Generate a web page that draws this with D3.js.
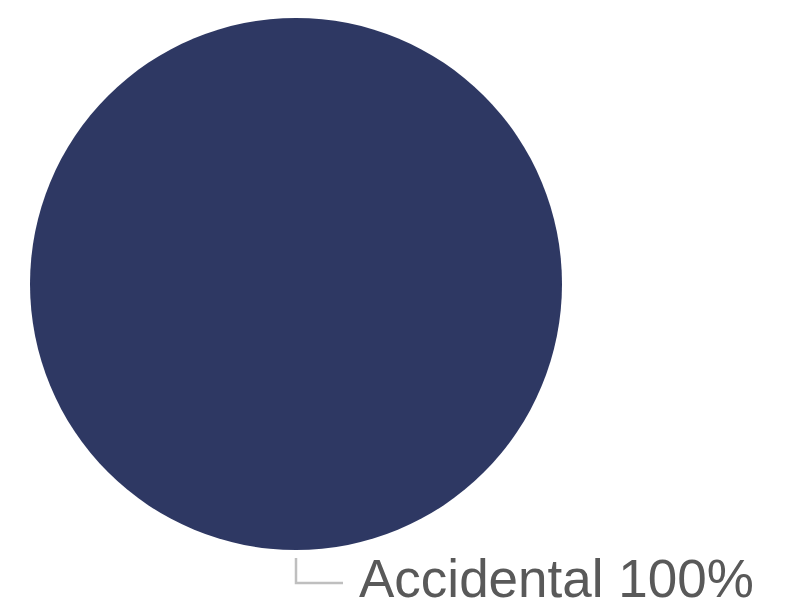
<!DOCTYPE html>
<html><head><meta charset="utf-8">
<script src="https://cdn.jsdelivr.net/npm/d3@7"></script>
<style>body{margin:0;background:#fff}svg{display:block}</style>
</head><body>
<svg id="c" width="792" height="609"></svg>
<script>
const categories = ["Accidental"];
const values = [100];
const colors = ["#2e3863"];

const svg = d3.select("#c");
const cx = 296, cy = 284, r = 266;
const g = svg.append("g").attr("transform", `translate(${cx},${cy})`);
const pie = d3.pie().sort(null).value(d => d.v);
const data = categories.map((c, i) => ({c, v: values[i], color: colors[i]}));
const arcs = pie(data);
const arc = d3.arc().innerRadius(0).outerRadius(r);
g.selectAll("path.slice").data(arcs).enter().append("path")
  .attr("class", "slice").attr("d", arc).attr("fill", d => d.data.color);

const total = d3.sum(values);
arcs.forEach(a => {
  const mid = (a.startAngle + a.endAngle) / 2;
  const ang = a.endAngle - a.startAngle >= 2 * Math.PI - 1e-6 ? Math.PI : mid;
  const px = Math.sin(ang) * (r + 8), py = -Math.cos(ang) * (r + 8);
  g.append("path")
    .attr("d", `M${px},${py} V${py + 25} H${px + 47}`)
    .attr("fill", "none").attr("stroke", "#bfbfbf").attr("stroke-width", 2.5);
  g.append("text")
    .attr("x", px + 63).attr("y", py + 39)
    .attr("font-family", "Liberation Sans, Arial, sans-serif")
    .attr("font-size", 53).attr("fill", "#595959")
    .text(`${a.data.c} ${Math.round(a.data.v / total * 100)}%`);
});
</script>
</body></html>
